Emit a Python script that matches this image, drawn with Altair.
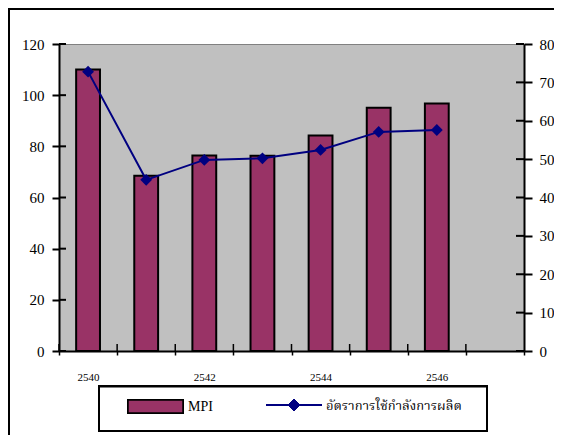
import altair as alt
import pandas as pd

# ---- data ----
categories = ["2540", "2541", "2542", "2543", "2544", "2545", "2546", "2547"]
years = ["2540", "2541", "2542", "2543", "2544", "2545", "2546"]
mpi = [110.0, 68.5, 76.4, 76.3, 84.2, 95.1, 96.7]
rate = [72.8, 44.6, 49.8, 50.2, 52.4, 57.1, 57.6]
left_ticks = [0, 20, 40, 60, 80, 100, 120]
right_ticks = [0, 10, 20, 30, 40, 50, 60, 70, 80]
legend_labels = ["MPI", "อัตราการใช้กำลังการผลิต"]

BAR = "#993366"
LINE = "#000080"
SERIF = "Liberation Serif"
THAI = "Norasi, Kinnari, Noto Serif Thai, Noto Sans Thai Looped, Noto Sans"
W, H = 465, 307

df = pd.DataFrame({"year": years, "mpi": mpi, "rate": rate})
cat_df = pd.DataFrame({"year": categories})
lt_df = pd.DataFrame({"lv": left_ticks})
rt_df = pd.DataFrame({"rv": right_ticks})

x_scale = alt.Scale(domain=categories, paddingInner=0, paddingOuter=0)
x_axis = alt.Axis(
    title=None, labelAngle=0, tickBand="extent", tickSize=4, tickWidth=1.5,
    tickColor="black", domainColor="black", domainWidth=2,
    labelExpr="toNumber(datum.value) % 2 == 0 ? datum.label : ''",
    labelFont=SERIF, labelFontSize=11, labelColor="black", labelPadding=16,
    grid=False,
)
X = alt.X("year:O", scale=x_scale, axis=x_axis)

bars = alt.Chart(df).mark_bar(
    width=alt.RelativeBandSize(0.41), color=BAR, stroke="black", strokeWidth=2
).encode(
    x=X,
    y=alt.Y("mpi:Q", scale=alt.Scale(domain=[0, 120], nice=False),
            axis=alt.Axis(orient="left", title=None, values=left_ticks,
                          tickSize=7, tickWidth=2, tickColor="black",
                          domainColor="black", domainWidth=2, grid=False,
                          labelFont=SERIF, labelFontSize=15, labelColor="black",
                          labelPadding=8)),
)

line = alt.Chart(df).mark_line(
    color=LINE, strokeWidth=2,
    point=alt.OverlayMarkDef(shape="diamond", filled=True, size=140, color=LINE),
).encode(
    x=X,
    y=alt.Y("rate:Q", scale=alt.Scale(domain=[0, 80], nice=False),
            axis=alt.Axis(orient="right", title=None, values=right_ticks,
                          tickSize=8, tickWidth=2, tickColor="black",
                          domainColor="black", domainWidth=2, grid=False,
                          labelFont=SERIF, labelFontSize=15, labelColor="black",
                          labelPadding=7)),
)

# inner halves of the crossing ticks
x_inner = alt.Chart(cat_df).mark_rule(color="black", strokeWidth=1.5).encode(
    x=alt.X("year:O", scale=x_scale, axis=x_axis, bandPosition=0),
    y=alt.value(H - 7), y2=alt.value(H),
)
l_inner = alt.Chart(lt_df).mark_rule(color="black", strokeWidth=2).encode(
    y=alt.Y("lv:Q", scale=alt.Scale(domain=[0, 120], nice=False), axis=None),
    x=alt.value(0), x2=alt.value(7),
)
r_inner = alt.Chart(rt_df).mark_rule(color="black", strokeWidth=2).encode(
    y=alt.Y("rv:Q", scale=alt.Scale(domain=[0, 80], nice=False), axis=None),
    x=alt.value(W - 8), x2=alt.value(W),
)

# outer chart border (left and top)
border_left = alt.Chart(cat_df).mark_rule(color="black", strokeWidth=1.5).encode(
    x=alt.value(-50.25), y=alt.value(-35.25), y2=alt.value(420)
)
border_top = alt.Chart(cat_df).mark_rule(color="black", strokeWidth=1.5).encode(
    x=alt.value(-51), x2=alt.value(W + 40), y=alt.value(-35.25)
)

# legend
leg_box = alt.Chart(cat_df).mark_rect(fill="white", stroke="black", strokeWidth=2).encode(
    x=alt.value(40), x2=alt.value(428), y=alt.value(342.5), y2=alt.value(387)
)
leg_swatch = alt.Chart(cat_df).mark_rect(fill=BAR, stroke="black", strokeWidth=1.5).encode(
    x=alt.value(69), x2=alt.value(124), y=alt.value(356), y2=alt.value(369)
)
leg_df = pd.DataFrame({"label": legend_labels})
leg_text1 = alt.Chart(leg_df.iloc[[0]]).mark_text(
    align="left", baseline="middle", font=SERIF, fontSize=14, color="black"
).encode(x=alt.value(129), y=alt.value(363), text="label:N")
leg_line = alt.Chart(cat_df).mark_rule(color=LINE, strokeWidth=2).encode(
    x=alt.value(207), x2=alt.value(263), y=alt.value(361)
)
leg_diamond = alt.Chart(cat_df).mark_point(
    shape="diamond", filled=True, size=140, color=LINE, opacity=1
).encode(x=alt.value(235), y=alt.value(361))
leg_text2 = alt.Chart(leg_df.iloc[[1]]).mark_text(
    align="left", baseline="middle", font=THAI, fontSize=13, color="black"
).encode(x=alt.value(267), y=alt.value(362), text="label:N")

chart = alt.layer(
    bars, line, x_inner, l_inner, r_inner,
    border_left, border_top,
    leg_box, leg_swatch, leg_text1, leg_line, leg_diamond, leg_text2,
).resolve_scale(y="independent").properties(
    width=W, height=H,
    padding={"left": 51, "top": 36, "right": 30, "bottom": 84},
    autosize=alt.AutoSizeParams(type="none"),
).configure_view(fill="#C0C0C0", stroke="#808080", strokeWidth=1)

chart.save("out.html", embed_options={"renderer": "svg", "actions": False})
